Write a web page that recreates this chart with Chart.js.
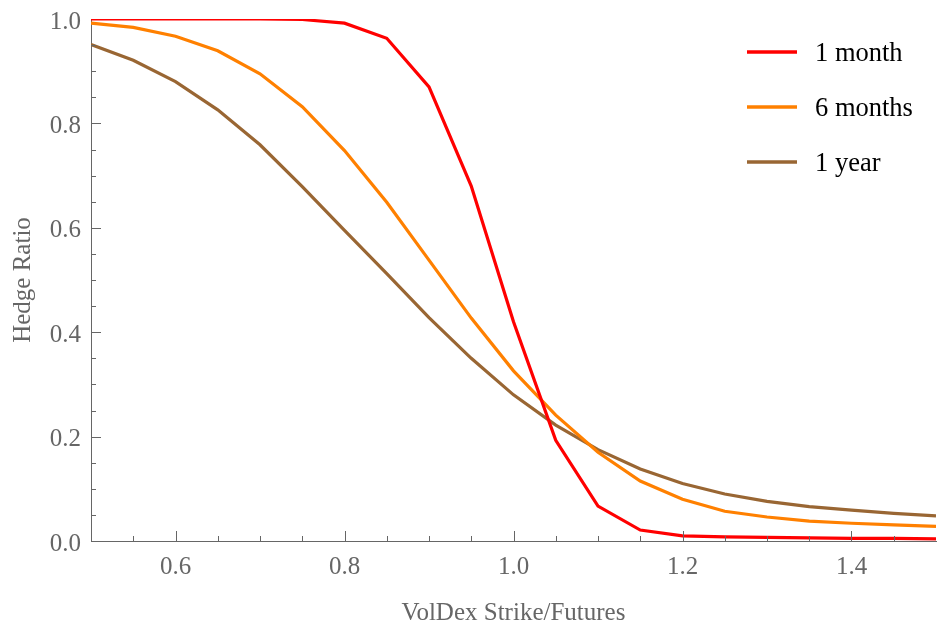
<!DOCTYPE html>
<html>
<head>
<meta charset="utf-8">
<script src="https://cdn.jsdelivr.net/npm/chart.js@4/dist/chart.umd.min.js"></script>
<style>
html,body{margin:0;padding:0;background:#fff;}
#wrap{width:938px;height:625px;position:relative;}
</style>
</head>
<body>
<div id="wrap"><canvas id="c" width="938" height="625"></canvas></div>
<script>
const strikes = [0.5,0.55,0.6,0.65,0.7,0.75,0.8,0.85,0.9,0.95,1.0,1.05,1.1,1.15,1.2,1.25,1.3,1.35,1.4,1.45,1.5];
const oneMonth = [1.0,1.0,1.0,1.0,1.0,0.999,0.992,0.963,0.87,0.68,0.42,0.193,0.067,0.021,0.01,0.008,0.007,0.006,0.005,0.005,0.004];
const sixMonths = [0.992,0.984,0.967,0.939,0.895,0.832,0.748,0.649,0.538,0.427,0.326,0.241,0.170,0.115,0.080,0.057,0.046,0.038,0.034,0.031,0.028];
const oneYear = [0.951,0.921,0.880,0.826,0.759,0.679,0.595,0.512,0.428,0.350,0.280,0.222,0.175,0.138,0.110,0.090,0.076,0.066,0.059,0.053,0.048];
const seriesLabels = ['1 month','6 months','1 year'];
const xTicks = [0.6,0.8,1.0,1.2,1.4];
const yTicks = [0.0,0.2,0.4,0.6,0.8,1.0];
const xMinor = [0.55,0.6,0.65,0.7,0.75,0.8,0.85,0.9,0.95,1.0,1.05,1.1,1.15,1.2,1.25,1.3,1.35,1.4,1.45];
const yMinor = [0.05,0.1,0.15,0.2,0.25,0.3,0.35,0.4,0.45,0.5,0.55,0.6,0.65,0.7,0.75,0.8,0.85,0.9,0.95];

const colors = ['#ff0000','#ff8000','#996633'];
const FONT = "'Liberation Serif', 'Times New Roman', serif";

function pts(ys){ return strikes.map((x,i)=>({x:x,y:ys[i]})); }

const tickPlugin = {
  id:'innerTicks',
  afterDatasetsDraw(chart){
    const ctx = chart.ctx, xs = chart.scales.x, ys = chart.scales.y;
    const a = chart.chartArea;
    ctx.save();
    ctx.strokeStyle = '#666';
    ctx.lineWidth = 1;
    ctx.beginPath();
    xMinor.forEach(v=>{
      const major = xTicks.some(t=>Math.abs(t-v)<1e-9);
      const px = Math.round(xs.getPixelForValue(v))+0.5;
      const len = major?10:5;
      ctx.moveTo(px,a.bottom); ctx.lineTo(px,a.bottom-len);
    });
    yMinor.forEach(v=>{
      const major = yTicks.some(t=>Math.abs(t-v)<1e-9);
      const py = Math.round(ys.getPixelForValue(v))+0.5;
      const len = major?10:5;
      ctx.moveTo(a.left,py); ctx.lineTo(a.left+len,py);
    });
    ctx.stroke();
    ctx.restore();
  }
};

const legendPlugin = {
  id:'insideLegend',
  afterDraw(chart){
    const ctx = chart.ctx;
    const rows = [52,107,162];
    ctx.save();
    ctx.font = "26.5px " + FONT;
    ctx.textBaseline = 'middle';
    ctx.textAlign = 'left';
    chart.data.datasets.forEach((ds,i)=>{
      const y = rows[i];
      ctx.strokeStyle = ds.borderColor;
      ctx.lineWidth = 3.5;
      ctx.beginPath(); ctx.moveTo(747,y); ctx.lineTo(797,y); ctx.stroke();
      ctx.fillStyle = '#000';
      ctx.fillText(ds.label, 815, y+2);
    });
    ctx.restore();
  }
};

new Chart(document.getElementById('c'), {
  type:'line',
  data:{
    datasets:[
      {label:seriesLabels[0], data:pts(oneMonth), borderColor:colors[0]},
      {label:seriesLabels[1], data:pts(sixMonths), borderColor:colors[1]},
      {label:seriesLabels[2], data:pts(oneYear), borderColor:colors[2]}
    ].map(d=>Object.assign(d,{borderWidth:3.2,pointRadius:0,tension:0,fill:false}))
  },
  options:{
    responsive:false,
    animation:false,
    layout:{padding:{top:19,right:2,left:0,bottom:0}},
    plugins:{legend:{display:false},tooltip:{enabled:false}},
    scales:{
      x:{
        type:'linear', min:0.5, max:1.5,
        afterBuildTicks(s){ s.ticks = xTicks.map(v=>({value:v})); },
        afterFit(s){ s.height = 84; s.paddingLeft = 0; s.paddingRight = 0; },
        grid:{display:false, drawTicks:false},
        border:{display:true,color:'#666',width:1},
        ticks:{padding:11,color:'#666',font:{family:FONT,size:25},maxRotation:0,callback:v=>Number(v).toFixed(1)},
        title:{display:true,text:'VolDex Strike/Futures',color:'#666',font:{family:FONT,size:25},padding:{top:0,bottom:-3}}
      },
      y:{
        type:'linear', min:0, max:1,
        afterBuildTicks(s){ s.ticks = yTicks.map(v=>({value:v})); },
        afterFit(s){ s.width = 91; s.paddingTop = 0; s.paddingBottom = 0; },
        grid:{display:false, drawTicks:false},
        border:{display:true,color:'#666',width:1},
        ticks:{padding:10,color:'#666',font:{family:FONT,size:25,lineHeight:'6px'},callback:v=>['',Number(v).toFixed(1)]},
        title:{display:true,text:'Hedge Ratio',color:'#666',font:{family:FONT,size:25},padding:{top:8,bottom:0}}
      }
    }
  },
  plugins:[tickPlugin, legendPlugin]
});
</script>
</body>
</html>
